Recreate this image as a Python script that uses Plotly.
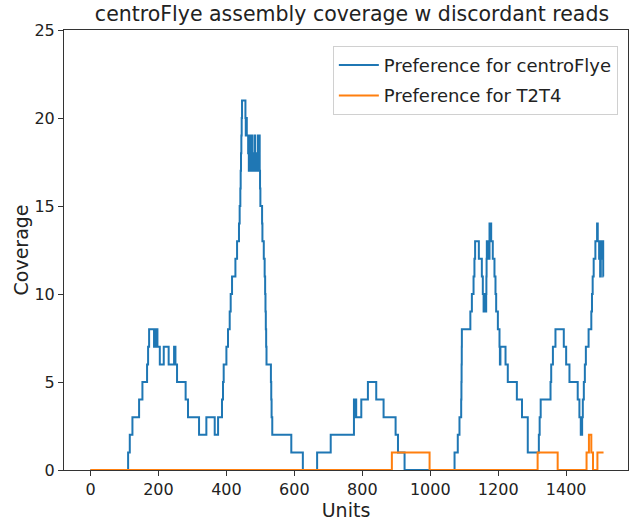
import plotly.graph_objects as go

# Step breakpoints (x where new value begins) for each series
blue_x = [0, 110.7, 115.6, 123.4, 143, 152.8, 166.5, 169.5, 172.5, 187, 188, 190, 191.5, 193, 194, 197,
          204, 215.6, 230, 246, 248, 249, 250, 254.7, 280, 287, 319.5, 341, 365.6, 375.5,
          387, 390, 392, 400, 404.7, 409.7, 412.6, 416.6, 426.5, 431.4, 437, 439, 441, 442, 443, 444, 445, 446,
          456, 457, 458, 460, 464, 466, 468.5, 470, 473.5, 476, 478.4, 480, 483, 485, 488, 490, 493,
          498, 499, 500, 505, 506, 510, 512.6, 514, 515, 516, 517, 518, 531, 532, 533, 535, 591, 625,
          667, 707, 775.4, 778, 779, 782, 797, 816.5, 841, 862.6, 898, 905, 924.4,
          1071.5, 1081, 1086, 1091, 1091.7, 1092.2, 1092.7, 1093, 1118, 1122.5, 1127.4, 1130, 1132, 1143,
          1151.8, 1154.7, 1157, 1158, 1160, 1161, 1162, 1164.6, 1165.2, 1165.8, 1166.5, 1168, 1170, 1172,
          1174.4, 1176, 1177, 1179.3, 1184, 1189, 1192, 1194, 1199, 1203.8, 1205, 1206.5, 1221.5, 1228.2,
          1254.9, 1270, 1287, 1319.6, 1322, 1325, 1354, 1356, 1361, 1368.5, 1393, 1400, 1409.7, 1434,
          1439, 1443, 1447, 1449, 1452, 1455, 1458, 1466, 1474, 1476, 1478, 1481, 1486, 1491, 1493, 1497,
          1500, 1502, 1506, 1507, 1509, 1510]
blue_y = [0, 1, 2, 3, 4, 5, 6, 7, 8, 7, 8, 7, 8, 7, 8, 7,
          6, 7, 6, 7, 6, 7, 6, 5, 4, 3, 2, 3, 2, 3,
          4, 5, 6, 7, 8, 9, 10, 11, 12, 13, 14, 15, 16, 17, 18, 19, 20, 21,
          20, 19, 20, 19, 18, 17, 19, 17, 19, 17, 18, 17, 19, 17, 18, 17, 19,
          17, 16, 15, 14, 13, 12, 11, 10, 9, 8, 7, 6, 5, 4, 3, 2, 1, 0,
          1, 2, 4, 3, 4, 3, 4, 5, 4, 3, 2, 1, 0,
          1, 2, 3, 4, 5, 6, 7, 8, 9, 10, 11, 12, 13, 12,
          11, 10, 9, 10, 9, 10, 9, 10, 11, 12, 13, 12, 13, 12,
          14, 13, 14, 13, 12, 11, 10, 9, 8, 7, 6, 7, 6, 5,
          4, 3, 1, 2, 3, 4, 5, 6, 7, 8, 7, 6, 5, 4,
          3, 2, 3, 4, 5, 6, 7, 8, 9, 10, 11, 12, 13, 14, 13, 12,
          11, 13, 12, 13, 11, 11]

orange_x = [0, 887, 998, 1316, 1375, 1460, 1467, 1474, 1479, 1492, 1510]
orange_y = [0, 1, 0, 1, 0, 1, 2, 1, 0, 1, 1]

x_ticks = [0, 200, 400, 600, 800, 1000, 1200, 1400]
y_ticks = [0, 5, 10, 15, 20, 25]

FONT = "DejaVu Sans"

fig = go.Figure()
fig.add_trace(go.Scatter(x=blue_x, y=blue_y, mode="lines", line_shape="hv",
                         line=dict(color="#1f77b4", width=2),
                         name="Preference for centroFlye", legendgroup="a"))
fig.add_trace(go.Scatter(x=orange_x, y=orange_y, mode="lines", line_shape="hv",
                         line=dict(color="#ff7f0e", width=2),
                         name="Preference for T2T4", legendgroup="b"))

axis_common = dict(showgrid=False, zeroline=False, showline=True, mirror=True,
                   linecolor="#333333", linewidth=1, ticks="outside", ticklen=5,
                   tickcolor="#333333", automargin=False,
                   tickfont=dict(family=FONT, size=16, color="#222222"))

fig.update_layout(
    width=639, height=521,
    margin=dict(l=64, r=11, t=30, b=51, autoexpand=False),
    paper_bgcolor="white", plot_bgcolor="white",
    title=dict(text="centroFlye assembly coverage w discordant reads",
               font=dict(family=FONT, size=20.5, color="#222222"),
               x=352 / 639, xanchor="center", y=1 - 14 / 521, yanchor="middle",
               automargin=False),
    xaxis=dict(range=[-78, 1582], tickvals=x_ticks,
               title=dict(text="Units", font=dict(family=FONT, size=19, color="#222222"), standoff=0),
               **axis_common),
    yaxis=dict(range=[0, 25], tickvals=y_ticks,
               title=dict(text="Coverage", font=dict(family=FONT, size=19, color="#222222"), standoff=0),
               **axis_common),
    legend=dict(x=0.982, y=0.964, xanchor="right", yanchor="top",
                bgcolor="rgba(255,255,255,0.8)", bordercolor="#d0d0d0", borderwidth=1,
                font=dict(family=FONT, size=18, color="#222222"),
                itemwidth=40, tracegroupgap=4),
    showlegend=True,
)

fig.write_html("out.html", config={"displayModeBar": False},
               post_script="document.body.style.margin='0';")
